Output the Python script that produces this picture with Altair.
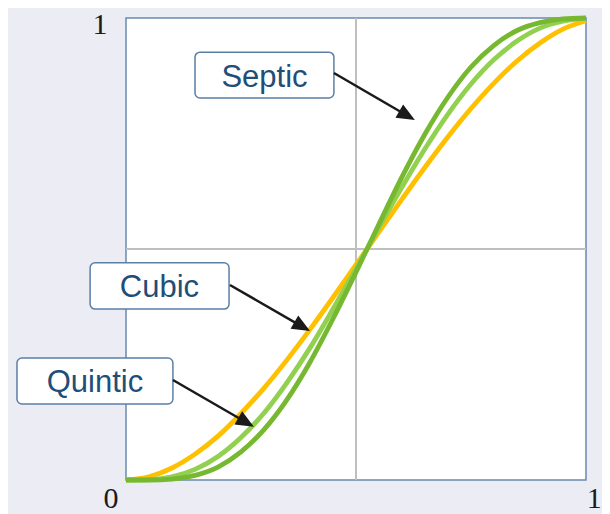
import altair as alt
import pandas as pd

# Curve readings (x as fraction of the plot box, y as fraction of its height)
x_vals = [0.00, 0.05, 0.10, 0.15, 0.20, 0.25, 0.30, 0.35, 0.40, 0.45, 0.50,
          0.55, 0.60, 0.65, 0.70, 0.75, 0.80, 0.85, 0.90, 0.95, 1.00]
cubic = [0.000, 0.007, 0.026, 0.056, 0.095, 0.144, 0.199, 0.260, 0.326, 0.395, 0.466,
         0.537, 0.608, 0.677, 0.743, 0.804, 0.859, 0.907, 0.946, 0.976, 0.994]
quintic = [0.000, 0.001, 0.007, 0.023, 0.051, 0.092, 0.145, 0.211, 0.286, 0.370, 0.457,
           0.547, 0.634, 0.717, 0.792, 0.857, 0.910, 0.950, 0.978, 0.993, 0.999]
septic = [0.000, 0.000, 0.002, 0.010, 0.028, 0.061, 0.109, 0.174, 0.255, 0.349, 0.450,
          0.554, 0.656, 0.749, 0.829, 0.894, 0.941, 0.973, 0.990, 0.998, 1.000]

series_names = ["Cubic", "Quintic", "Septic"]
series_colors = ["#FFC000", "#92D050", "#76B82F"]

rows = []
for name, ys in zip(series_names, [cubic, quintic, septic]):
    for i, (xv, yv) in enumerate(zip(x_vals, ys)):
        rows.append({"series": name, "x": xv, "y": yv, "order": i})
curves = pd.DataFrame(rows)

# Annotation labels (box, text, arrow) in plot-box units
labels = ["Septic", "Cubic", "Quintic"]
box_x = [0.150, -0.078, -0.237]
box_x2 = [0.452, 0.224, 0.102]
box_y = [0.827, 0.370, 0.1645]
box_y2 = [0.926, 0.470, 0.264]
text_x = [0.301, 0.0728, -0.0674]
text_y = [0.851, 0.396, 0.1905]
arrow_x = [0.452, 0.226, 0.102]
arrow_y = [0.881, 0.422, 0.2165]
arrow_x2 = [0.609, 0.381, 0.259]
arrow_y2 = [0.790, 0.333, 0.126]
tip_x = [0.628, 0.400, 0.278]
tip_y = [0.779, 0.3225, 0.115]

ann = pd.DataFrame({
    "label": labels, "bx": box_x, "bx2": box_x2, "by": box_y, "by2": box_y2,
    "tx": text_x, "ty": text_y, "ax": arrow_x, "ay": arrow_y,
    "ax2": arrow_x2, "ay2": arrow_y2, "px": tip_x, "py": tip_y,
})

tick_text = ["1", "0", "1"]
tick_x = [-0.0565, -0.0326, 1.018]
tick_y = [0.965, -0.0606, -0.0606]
ticks = pd.DataFrame({"t": tick_text, "x": tick_x, "y": tick_y})

XS = alt.Scale(domain=[0, 1], nice=False, zero=False)
YS = alt.Scale(domain=[0, 1], nice=False, zero=False)

frame = alt.Chart(pd.DataFrame({"x": [0], "x2": [1], "y": [0], "y2": [1]})).mark_rect(
    fill="white", stroke="#6A89AD", strokeWidth=1.5
).encode(
    x=alt.X("x:Q", scale=XS, axis=None), x2="x2:Q",
    y=alt.Y("y:Q", scale=YS, axis=None), y2="y2:Q",
)

vgrid = alt.Chart(pd.DataFrame({"x": [0.5]})).mark_rule(color="#BFBFBF", strokeWidth=2).encode(
    x=alt.X("x:Q", scale=XS, axis=None)
)
hgrid = alt.Chart(pd.DataFrame({"y": [0.5]})).mark_rule(color="#BFBFBF", strokeWidth=2).encode(
    y=alt.Y("y:Q", scale=YS, axis=None)
)

lines = alt.Chart(curves).mark_line(strokeWidth=4.8, interpolate="monotone").encode(
    x=alt.X("x:Q", scale=XS, axis=None),
    y=alt.Y("y:Q", scale=YS, axis=None),
    color=alt.Color("series:N", scale=alt.Scale(domain=series_names, range=series_colors), legend=None),
    order="order:Q",
)

boxes = alt.Chart(ann).mark_rect(
    fill="white", stroke="#5B7FA6", strokeWidth=1.5, cornerRadius=5
).encode(
    x=alt.X("bx:Q", scale=XS, axis=None), x2="bx2:Q",
    y=alt.Y("by:Q", scale=YS, axis=None), y2="by2:Q",
)

texts = alt.Chart(ann).mark_text(
    font="Liberation Sans", fontSize=31, color="#1F4E79", align="center", baseline="alphabetic"
).encode(
    x=alt.X("tx:Q", scale=XS, axis=None),
    y=alt.Y("ty:Q", scale=YS, axis=None),
    text="label:N",
)

arrows = alt.Chart(ann).mark_rule(color="#1A1A1A", strokeWidth=2.5).encode(
    x=alt.X("ax:Q", scale=XS, axis=None), x2="ax2:Q",
    y=alt.Y("ay:Q", scale=YS, axis=None), y2="ay2:Q",
)

heads = alt.Chart(ann).mark_point(
    shape="M0,0 L-2,-0.85 L-2,0.85 Z", size=324, filled=True, fill="#1A1A1A",
    strokeWidth=0, opacity=1, angle=30
).encode(
    x=alt.X("px:Q", scale=XS, axis=None),
    y=alt.Y("py:Q", scale=YS, axis=None),
)

tick_labels = alt.Chart(ticks).mark_text(
    font="Liberation Serif", fontSize=30, color="#1A1A1A", align="center", baseline="alphabetic"
).encode(
    x=alt.X("x:Q", scale=XS, axis=None),
    y=alt.Y("y:Q", scale=YS, axis=None),
    text="t:N",
)

chart = alt.layer(
    frame, vgrid, hgrid, lines, boxes, texts, arrows, heads, tick_labels
).properties(
    width=460, height=462,
    autosize=alt.AutoSizeParams(type="none"),
    padding={"left": 118, "top": 10, "right": 16, "bottom": 34},
    background="#ECECF4",
).configure_view(stroke=None)

chart.save("out.html", embed_options={"renderer": "svg", "actions": False})
